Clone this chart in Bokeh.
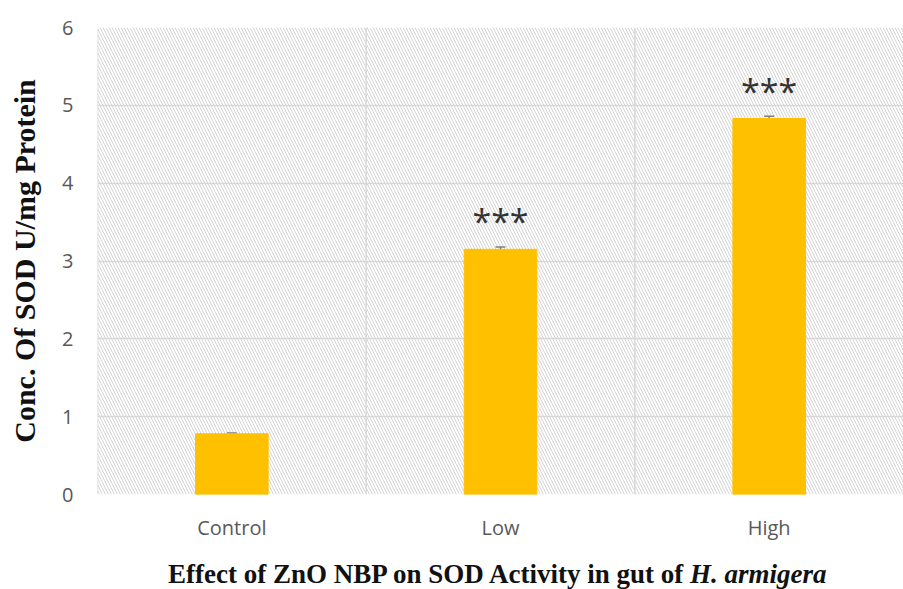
from bokeh.plotting import figure
from bokeh.layouts import column
from bokeh.models import (ColumnDataSource, FactorRange, Range1d, BoxAnnotation, Span,
                          Whisker, FixedTicker, Div)
from bokeh.core.properties import value
from bokeh.embed import file_html
from bokeh.resources import INLINE

categories = ["Control", "Low", "High"]
sod_values = [0.78, 3.15, 4.83]
sod_errors = [0.01, 0.03, 0.03]
significance = ["", "***", "***"]
y_ticks = [0, 1, 2, 3, 4, 5, 6]

p = figure(x_range=FactorRange(*categories, range_padding=0), y_range=Range1d(0, 6),
           width=903, height=553, output_backend="svg", toolbar_location=None,
           min_border_left=97, min_border_right=0, min_border_top=27, min_border_bottom=59)
p.outline_line_color = None
p.background_fill_color = "white"
p.border_fill_color = "white"

# hatched plot area
p.add_layout(BoxAnnotation(fill_alpha=0, line_alpha=0, hatch_pattern="\\", hatch_color="#d4d4d4",
                           hatch_scale=6, hatch_weight=1, level="underlay"))

# grid
p.xgrid.grid_line_color = None
p.ygrid.ticker = FixedTicker(ticks=y_ticks)
p.ygrid.grid_line_color = "#d9d9d9"
p.ygrid.grid_line_width = 1.5
for i in range(len(categories) + 1):
    p.add_layout(Span(location=i, dimension="height", line_color="#d9d9d9", line_width=1.5,
                      level="underlay"))

src = ColumnDataSource(dict(cat=categories, val=sod_values,
                            lo=[v - e for v, e in zip(sod_values, sod_errors)],
                            hi=[v + e for v, e in zip(sod_values, sod_errors)],
                            sig=significance,
                            sig_y=[v + 0.36 for v in sod_values]))
p.vbar(x="cat", top="val", width=0.27, source=src, color="#FFC000")
w = Whisker(base="cat", lower="lo", upper="hi", source=src, line_color="#7f7f7f", line_width=1.5)
for head in (w.upper_head, w.lower_head):
    head.size = 10
    head.line_color = "#7f7f7f"
    head.line_width = 1.5
p.add_layout(w)
p.text(x="cat", y="sig_y", text="sig", source=src, text_align="center", text_baseline="middle",
       text_font_size="34px", text_color="#333333", text_font=value("Open Sans"))

# axes
p.yaxis.ticker = FixedTicker(ticks=y_ticks)
p.yaxis.axis_line_color = None
p.yaxis.major_tick_line_color = None
p.yaxis.minor_tick_line_color = None
p.yaxis.major_label_standoff = 18
p.yaxis.major_label_text_font = "Open Sans"
p.yaxis.major_label_text_font_size = "20px"
p.yaxis.major_label_text_color = "#595959"
p.yaxis.axis_label = "Conc. Of SOD U/mg Protein"
p.yaxis.axis_label_text_font = "Liberation Serif"
p.yaxis.axis_label_text_font_style = "bold"
p.yaxis.axis_label_text_font_size = "30px"
p.yaxis.axis_label_text_color = "#111111"
p.yaxis.axis_label_standoff = 18

p.xaxis.axis_line_color = None
p.xaxis.major_tick_line_color = None
p.xaxis.major_label_standoff = 13
p.xaxis.major_label_text_font = "Open Sans"
p.xaxis.major_label_text_font_size = "20px"
p.xaxis.major_label_text_color = "#595959"

title = Div(text='Effect of ZnO NBP on SOD Activity in gut of <i>H. armigera</i>',
            width=903, height=36, margin=0,
            styles={"font-family": "'Liberation Serif', serif", "font-weight": "bold",
                    "font-size": "27px", "line-height": "27px", "color": "#111111",
                    "padding-left": "168px", "padding-top": "8px", "white-space": "nowrap"})

layout = column(p, title, spacing=0)
open("out.html", "w").write(file_html(layout, INLINE))
